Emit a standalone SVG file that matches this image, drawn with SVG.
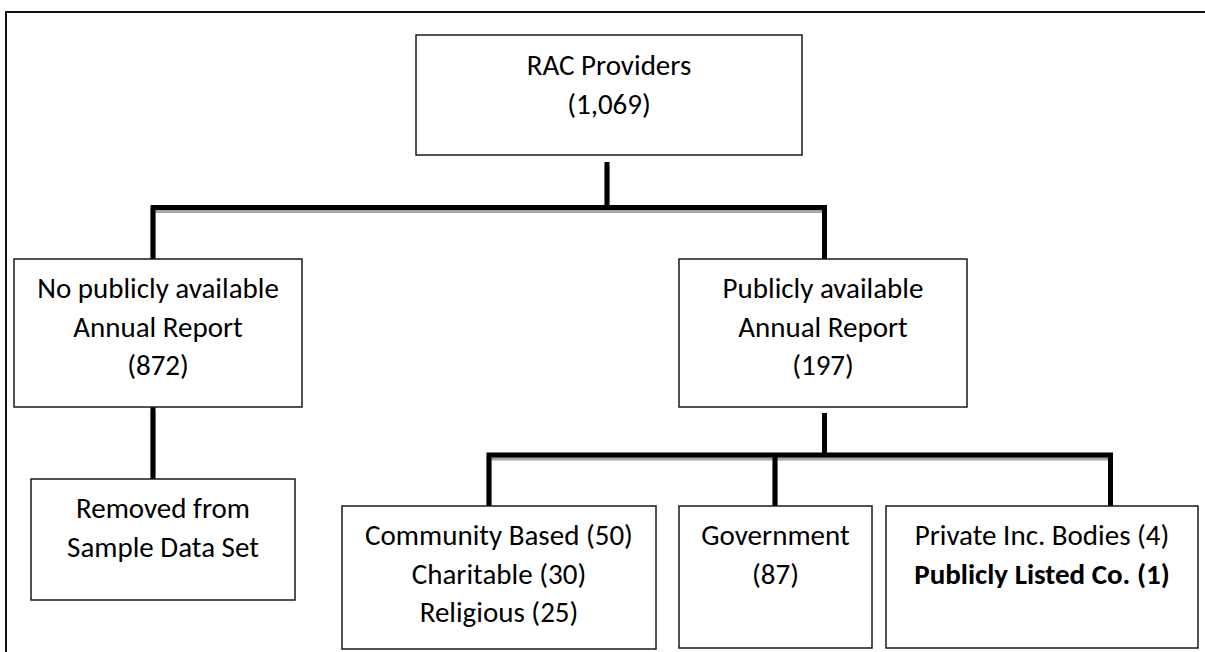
<svg xmlns="http://www.w3.org/2000/svg" width="1205" height="652" viewBox="0 0 1205 652">
<style>
.box{fill:#fff;stroke:#1a1a1a;stroke-width:1.5}
.t{font-family:Calibri,Carlito,Lato,"Liberation Sans",sans-serif;font-size:29px;fill:#000;text-anchor:middle}
.b{font-weight:bold}
.ln{fill:none;stroke:#000;stroke-width:5;stroke-linejoin:miter;stroke-linecap:butt}
.sh{fill:none;stroke:#a6a6a6;stroke-width:5;stroke-linejoin:miter;stroke-linecap:butt}
</style>
<rect width="1205" height="652" fill="#fff"/>
<g id="frame" fill="none" stroke="#111" stroke-width="2">
<path d="M6,652 V12 H1205"/>
</g>
<g id="connectors">
<g transform="translate(0,3)">
<path class="sh" d="M153,256 V207.5 H824.5 V256"/>
<path class="sh" d="M607,162 V207.5"/>
<path class="sh" d="M153,407 V476"/>
<path class="sh" d="M824.5,413 V455"/>
<path class="sh" d="M489,503 V455 H1110.5 V503"/>
<path class="sh" d="M775,455 V503"/>
</g>
<path class="ln" d="M153,259 V207.5 H824.5 V259"/>
<path class="ln" d="M607,162 V207.5"/>
<path class="ln" d="M153,407 V479"/>
<path class="ln" d="M824.5,413 V455"/>
<path class="ln" d="M489,506 V455 H1110.5 V506"/>
<path class="ln" d="M775,455 V506"/>
</g>
<g id="rac">
<rect class="box" x="416" y="35" width="386" height="120"/>
<text class="t" x="609" y="75">RAC Providers</text>
<text class="t" x="609" y="114">(1,069)</text>
</g>
<g id="no-report">
<rect class="box" x="14" y="259" width="288" height="148"/>
<text class="t" x="158" y="298">No publicly available</text>
<text class="t" x="158" y="337">Annual Report</text>
<text class="t" x="158" y="375">(872)</text>
</g>
<g id="report">
<rect class="box" x="679" y="259" width="288" height="148"/>
<text class="t" x="823" y="298">Publicly available</text>
<text class="t" x="823" y="337">Annual Report</text>
<text class="t" x="823" y="375">(197)</text>
</g>
<g id="removed">
<rect class="box" x="31" y="479" width="264" height="121"/>
<text class="t" x="163" y="518">Removed from</text>
<text class="t" x="163" y="557">Sample Data Set</text>
</g>
<g id="community">
<rect class="box" x="342" y="506" width="314" height="143"/>
<text class="t" x="499" y="545">Community Based (50)</text>
<text class="t" x="499" y="584">Charitable (30)</text>
<text class="t" x="499" y="622">Religious (25)</text>
</g>
<g id="government">
<rect class="box" x="679" y="506" width="193" height="142"/>
<text class="t" x="775.5" y="545">Government</text>
<text class="t" x="775.5" y="584">(87)</text>
</g>
<g id="private">
<rect class="box" x="886" y="506" width="312" height="142"/>
<text class="t" x="1042" y="545">Private Inc. Bodies (4)</text>
<text class="t b" x="1042" y="584">Publicly Listed Co. (1)</text>
</g>
</svg>
